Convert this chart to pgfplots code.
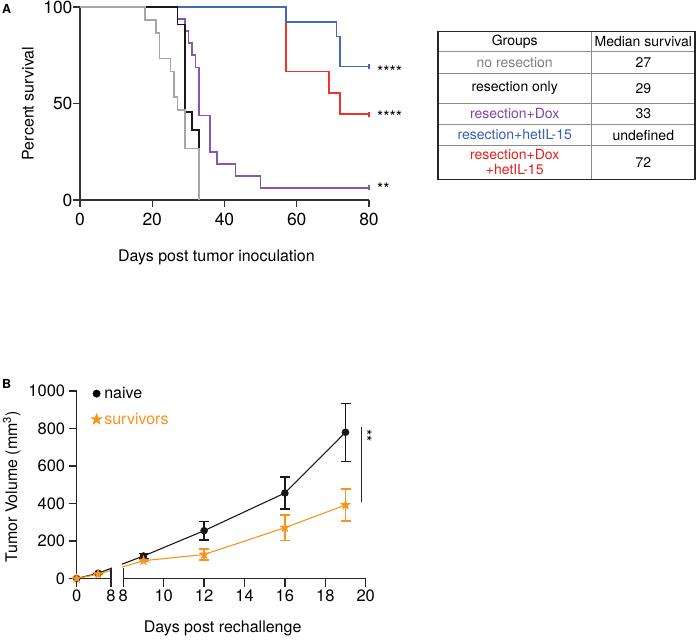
\documentclass[border=0pt]{standalone}
\usepackage{fontspec}
\setmainfont{TeX Gyre Heros}
\usepackage{pgfplots}
\pgfplotsset{compat=1.18}
\usepackage{pgfplotstable}
\definecolor{cgray}{RGB}{166,166,166}
\definecolor{cblack}{RGB}{25,25,25}
\definecolor{cpurple}{RGB}{135,85,185}
\definecolor{cblue}{RGB}{68,104,190}
\definecolor{cred}{RGB}{238,52,42}
\definecolor{corange}{RGB}{247,148,30}
\definecolor{tgray}{RGB}{128,128,128}
\definecolor{tpurple}{RGB}{125,70,170}
\definecolor{tblue}{RGB}{55,95,185}
\definecolor{tred}{RGB}{235,30,30}

\pgfdeclareplotmark{fstar}{%
  \pgfpathmoveto{\pgfpointpolar{90}{\pgfplotmarksize}}%
  \pgfpathlineto{\pgfpointpolar{126}{0.4\pgfplotmarksize}}%
  \pgfpathlineto{\pgfpointpolar{162}{\pgfplotmarksize}}%
  \pgfpathlineto{\pgfpointpolar{198}{0.4\pgfplotmarksize}}%
  \pgfpathlineto{\pgfpointpolar{234}{\pgfplotmarksize}}%
  \pgfpathlineto{\pgfpointpolar{270}{0.4\pgfplotmarksize}}%
  \pgfpathlineto{\pgfpointpolar{306}{\pgfplotmarksize}}%
  \pgfpathlineto{\pgfpointpolar{342}{0.4\pgfplotmarksize}}%
  \pgfpathlineto{\pgfpointpolar{18}{\pgfplotmarksize}}%
  \pgfpathlineto{\pgfpointpolar{54}{0.4\pgfplotmarksize}}%
  \pgfpathclose\pgfusepathqfillstroke}

\pgfplotstableread{
d v e
0 0 0
5 28 0
9 120 14
12 255 49
16 456 85
19 780 155
}\naive
\pgfplotstableread{
d v e
0 0 0
5 23 0
9 95 6
12 128 30
16 271 68
19 392 86
}\surv

\newcommand\fs[1]{\fontsize{#1}{#1}\selectfont}

\begin{document}
\begin{tikzpicture}
\useasboundingbox (0pt,0pt) rectangle (700pt,641pt);

% ---------------- Panel A ----------------
\begin{axis}[
  at={(80pt,441pt)}, anchor=south west, scale only axis,
  width=289pt, height=193pt,
  xmin=0, xmax=80, ymin=0, ymax=100,
  axis lines=left, axis line style={-, line width=1.6pt, draw=black!80},
  xtick={0,20,40,60,80}, ytick={0,50,100},
  tick align=outside, major tick length=7pt,
  tick style={line width=1.4pt, black!80},
  ticklabel style={font=\fs{17.5}},
  xticklabel style={yshift=-3pt},
  yticklabel style={xshift=3pt},
  /pgf/number format/assume math mode=true,
  xlabel={Days post tumor inoculation}, ylabel={Percent survival},
  every axis x label/.style={at={(axis description cs:0.472,-0.295)}, anchor=center, font=\fs{16}},
  every axis y label/.style={at={(axis description cs:-0.18,0.5)}, rotate=90, anchor=center, font=\fs{16}},
  clip=false,
]
\addplot[const plot, cred, line width=1.6pt] coordinates {(0,100)(57,66.67)(69,55.56)(72,44.44)(80,44.44)};
\addplot[const plot, cblue, line width=1.6pt] coordinates {(0,100)(57,92.31)(71,84.62)(72,69.23)(80,69.23)};
\addplot[const plot, cpurple, line width=1.6pt] coordinates {(0,100)(27,93.75)(29,87.5)(30,81.25)(31,75)(32,68.75)(33,43.75)(36,25)(38,18.75)(43,12.5)(50,6.25)(80,6.25)};
\addplot[const plot, cblack, line width=1.6pt] coordinates {(0,100)(27,90.91)(29,45.45)(31,36.36)(33,0)};
\addplot[const plot, cgray, line width=1.6pt] coordinates {(0,100)(18,93.33)(21,86.67)(22,73.33)(25,66.67)(26,53.33)(27,46.67)(29,26.67)(33,0)};
\addplot[only marks, mark=|, mark size=2.5pt, cred, line width=1.4pt] coordinates {(80,44.44)};
\addplot[only marks, mark=|, mark size=2.5pt, cblue, line width=1.4pt] coordinates {(80,69.23)};
\addplot[only marks, mark=|, mark size=2.5pt, cpurple, line width=1.4pt] coordinates {(80,6.25)};
\end{axis}

\begin{scope}[x=1pt,y=1pt]
\node[anchor=north west, font=\bfseries\fs{12.5}, inner sep=0pt] at (2,637) {A};
\node[anchor=north west, font=\bfseries\fs{12.5}, inner sep=0pt] at (2,262) {B};
\node[anchor=base west, font=\fs{16}, inner sep=0pt] at (377,563.5) {****};
\node[anchor=base west, font=\fs{16}, inner sep=0pt] at (377,518.5) {****};
\node[anchor=base west, font=\fs{16}, inner sep=0pt] at (377,446.5) {**};

% table
\def\L{437.7}\def\R{695}\def\M{591.7}
\foreach \yy in {51.7,73.3,103.3,124.3,145.7}{
  \draw[line width=0.8pt, black!45] (\L,641-\yy) -- (\R,641-\yy);
}
\draw[line width=0.8pt, black!45] (\M,641-31.7) -- (\M,641-179.3);
\draw[line width=1.6pt, black!85] (\L,641-31.7) rectangle (\R,641-179.3);
\begin{scope}[every node/.style={font=\fs{14}, inner sep=0pt, anchor=center}]
\node at (514.7,641-41.7) {Groups};
\node at (643.3,641-41.7) {Median survival};
\node[text=tgray] at (514.7,641-62.5) {no resection};
\node at (643.3,641-62.5) {27};
\node at (514.7,641-88.3) {resection only};
\node at (643.3,641-88.3) {29};
\node[text=tpurple] at (514.7,641-113.8) {resection+Dox};
\node at (643.3,641-113.8) {33};
\node[text=tblue] at (514.7,641-135) {resection+hetIL-15};
\node at (643.3,641-135) {undefined};
\node[text=tred] at (514.7,641-155) {resection+Dox};
\node[text=tred] at (514.7,641-170) {+hetIL-15};
\node at (643.3,641-162.5) {72};
\end{scope}
\end{scope}

% ---------------- Panel B ----------------
\begin{axis}[
  at={(76.7pt,62.5pt)}, anchor=south west, scale only axis,
  width=289pt, height=187.5pt,
  xmin=0, xmax=289, ymin=0, ymax=1000,
  axis x line*=bottom, axis y line*=left,
  axis line style={-, line width=1.4pt, draw=black!85},
  x axis line style={draw=none},
  xtick={0,34.3,46.6,87,127.4,167.8,208.2,248.6,289},
  xticklabels={0,8,8,10,12,14,16,18,20},
  ytick={0,200,400,600,800,1000},
  /pgf/number format/1000 sep={},
  tick align=outside, major tick length=8pt,
  tick style={line width=1.3pt, black!85},
  ticklabel style={font=\fs{16.5}},
  /pgf/number format/assume math mode=true,
  xlabel={Days post rechallenge}, ylabel={Tumor Volume (mm\textsuperscript{3})},
  every axis x label/.style={at={(axis description cs:0.505,-0.264)}, anchor=center, font=\fs{16}},
  every axis y label/.style={at={(axis description cs:-0.225,0.49)}, rotate=90, anchor=center, font=\fs{16}},
  clip=false,
  brk/.style={x filter/.expression={x<8.5 ? 4.2875*x : 46.6+20.2*(x-8)}},
  legend style={draw=none, fill=none, at={(axis cs:14,1032)}, anchor=north west,
    font=\fs{16}, row sep=9pt, inner sep=0pt, nodes={inner sep=2pt}},
  legend cell align=left,
  legend image code/.code={\draw[#1] plot coordinates {(0.12cm,0cm)};},
]
\addlegendimage{only marks, mark=*, mark size=3.7pt, black}
\addlegendentry{naive}
\addlegendimage{only marks, mark=fstar, mark size=6pt, corange}
\addlegendentry{\textcolor{corange}{survivors}}

\addplot[forget plot, brk, cblack, line width=1.1pt, mark=*, mark size=3.2pt,
  error bars/.cd, y dir=both, y explicit,
  error bar style={line width=1.3pt},
  error mark options={rotate=90, mark size=5pt, line width=1.3pt}]
  table[x=d, y=v, y error=e] {\naive};
\addplot[forget plot, brk, corange, line width=1.1pt, mark=fstar, mark size=4pt,
  error bars/.cd, y dir=both, y explicit,
  error bar style={line width=1.3pt},
  error mark options={rotate=90, mark size=5pt, line width=1.3pt}]
  table[x=d, y=v, y error=e] {\surv};

\fill[white] (axis cs:35.4,4) rectangle (axis cs:45.5,250);
\draw[line width=1.4pt, black!85] (axis cs:0,0) -- (axis cs:34.3,0);
\draw[line width=1.4pt, black!85] (axis cs:46.6,0) -- (axis cs:289,0);
\draw[line width=1.4pt, black!85] (axis cs:34.3,-42) -- (axis cs:34.3,56);
\draw[line width=1.4pt, black!85] (axis cs:46.6,-42) -- (axis cs:46.6,56);
\draw[line width=0.8pt, black!85] (axis cs:284.3,810) -- (axis cs:284.3,410);
\node[rotate=-90, anchor=base west, font=\fs{16}, inner sep=0pt] at (axis cs:283.5,797) {**};
\end{axis}
\end{tikzpicture}
\end{document}
